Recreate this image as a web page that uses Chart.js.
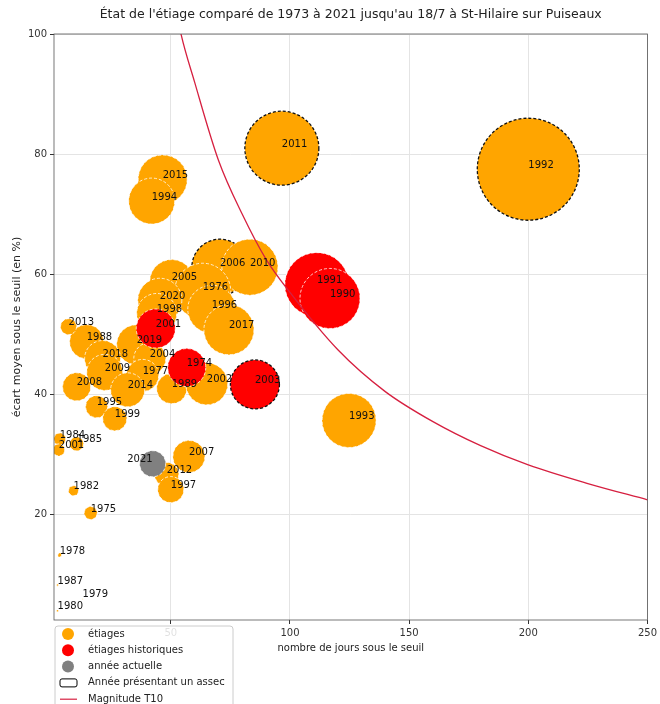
<!DOCTYPE html>
<html lang="fr">
<head>
<meta charset="UTF-8">
<script src="https://cdn.jsdelivr.net/npm/chart.js"></script>
<title>Etiage St-Hilaire</title>
<style>
  body { margin: 0; background: #fff; }
  .container { width: 660px; height: 704px; }
</style>
</head>
<body>
<div class="container">
  <canvas id="mychart" width="660" height="704"></canvas>
</div>
<script>
// étiages (orange)
const etiageAnnees = ['1992','2011','2006','2010','2015','1994','1993','2005','1976','2020','1998','1996','2017',
  '1988','2013','2019','2018','2004','2009','1977','2008','2014','1989','2002','1995','1999','1984','2001','1985',
  '2012','2007','1997','1982','1975','1978','1987','1979','1980'];
const etiageJours = [200, 96.6, 70.6, 83.2, 46.6, 42, 124.8, 50.4, 63.4, 45.4, 44.1, 67.2, 74.4,
  14.7, 7.1, 35.7, 21.4, 41.2, 22.3, 38.2, 10.5, 31.9, 50.4, 65.1, 18.9, 26.5, 3.4, 3, 10.5,
  48.3, 57.6, 50, 9.2, 16.4, 3.4, 2.5, 13, 2.5];
const etiageEcart = [77.5, 81, 61.2, 61.2, 75.8, 72.2, 35.7, 58.8, 57.2, 55.7, 53.5, 54.2, 50.8,
  48.8, 51.3, 48.3, 46, 46, 43.7, 43.2, 41.3, 40.8, 41, 41.8, 38, 36, 32.6, 30.8, 31.8,
  26.7, 29.7, 24.2, 24, 20.3, 13.3, 8.3, 6, 4];
const etiageTaille = [51, 37, 28, 28, 24.5, 23, 27, 22, 28, 22, 20, 24, 25,
  17, 8, 20, 18, 16, 18, 16, 14, 17, 15, 21, 11, 12, 6, 6, 7,
  12, 16, 13, 5, 6.5, 2, 1, 0.5, 1];

// étiages historiques (rouge)
const histoAnnees = ['1991','1990','2003','2001','1974'];
const histoJours = [111.3, 116.8, 85.3, 43.7, 56.7];
const histoEcart = [58.3, 56, 41.7, 51, 44.5];
const histoTaille = [32, 30, 24.5, 19.5, 19];

// année actuelle
const actuelAnnees = ['2021'];
const actuelJours = [42.4];
const actuelEcart = [28.5];
const actuelTaille = [13];

// années avec assec
const assecAnnees = ['1992','2011','2006','2003'];

// courbe magnitude T10
const t10Jours = [51, 54, 60, 70, 80, 90, 100, 120, 140, 160, 180, 200, 225, 250];
const t10Ecart = [107, 100.5, 92, 79, 70, 62.5, 57, 47.5, 40.5, 35.5, 31.5, 28.3, 25.2, 22.5];

const xTicks = [50, 100, 150, 200, 250];
const yTicks = [20, 40, 60, 80, 100];

const titre = "État de l'étiage comparé de 1973 à 2021 jusqu'au 18/7 à St-Hilaire sur Puiseaux";

function points(jours, ecart, taille) {
  return jours.map((j, i) => ({x: j, y: ecart[i], r: taille[i]}));
}

Chart.defaults.font.family = "'DejaVu Sans', sans-serif";
Chart.defaults.color = '#333';

const labelPlugin = {
  id: 'labels',
  beforeDatasetDraw(chart, args) {
    const ds = chart.data.datasets[args.index];
    if (ds.annees) chart.ctx.setLineDash([3, 2]);
  },
  afterDatasetDraw(chart, args) {
    chart.ctx.setLineDash([]);
  },
  afterDatasetsDraw(chart) {
    const ctx = chart.ctx;
    ctx.save();
    ctx.font = "10px 'DejaVu Sans'";
    ctx.fillStyle = '#111';
    ctx.textBaseline = 'alphabetic';
    chart.data.datasets.forEach((ds, d) => {
      if (!ds.annees) return;
      chart.getDatasetMeta(d).data.forEach((el, i) => {
        ctx.textAlign = ds.labelAlign || 'left';
        ctx.fillText(ds.annees[i], el.x, el.y - 1.5);
      });
    });
    // cadre
    const a = chart.chartArea;
    ctx.strokeStyle = '#555';
    ctx.lineWidth = 0.8;
    ctx.strokeRect(a.left, a.top, a.right - a.left, a.bottom - a.top);
    // titre centré sur la zone du graphe
    ctx.font = "12.5px 'DejaVu Sans'";
    ctx.fillStyle = '#222';
    ctx.textAlign = 'center';
    ctx.textBaseline = 'middle';
    ctx.fillText(titre, (a.left + a.right) / 2, 15);
    ctx.restore();
  },
  afterDraw(chart) {
    const ctx = chart.ctx;
    const lx = 55, ly = 626;
    ctx.save();
    ctx.fillStyle = 'rgba(255,255,255,0.85)';
    ctx.strokeStyle = '#ccc';
    ctx.lineWidth = 1;
    ctx.beginPath();
    ctx.roundRect(lx, ly, 178, 95, 3);
    ctx.fill();
    ctx.stroke();
    ctx.font = "10px 'DejaVu Sans'";
    ctx.textBaseline = 'middle';
    ctx.textAlign = 'left';
    const items = [
      {t: 'étiages', c: '#ffa500', k: 'dot'},
      {t: 'étiages historiques', c: '#ff0000', k: 'dot'},
      {t: 'année actuelle', c: '#808080', k: 'dot'},
      {t: 'Année présentant un assec', c: '#000', k: 'box'},
      {t: 'Magnitude T10', c: '#d62040', k: 'line'}
    ];
    items.forEach((it, i) => {
      const y = ly + 8 + i * 16.3;
      if (it.k === 'dot') {
        ctx.fillStyle = it.c;
        ctx.beginPath();
        ctx.arc(lx + 13, y, 6, 0, Math.PI * 2);
        ctx.fill();
      } else if (it.k === 'box') {
        ctx.strokeStyle = it.c;
        ctx.lineWidth = 1;
        ctx.beginPath();
        ctx.roundRect(lx + 5, y - 4, 17, 8, 2);
        ctx.stroke();
      } else {
        ctx.strokeStyle = it.c;
        ctx.lineWidth = 1.2;
        ctx.beginPath();
        ctx.moveTo(lx + 5, y);
        ctx.lineTo(lx + 22, y);
        ctx.stroke();
      }
      ctx.fillStyle = '#222';
      ctx.fillText(it.t, lx + 33, y);
    });
    ctx.restore();
  }
};

const edge = ds => ctx => assecAnnees.includes(ds[ctx.dataIndex]) ? '#111' : '#fff';
const edgeW = ds => ctx => assecAnnees.includes(ds[ctx.dataIndex]) ? 1.3 : 0.8;

let mychart = document.getElementById('mychart').getContext('2d');
let charts = new Chart(mychart, {
  type: 'bubble',
  data: {
    datasets: [
      {
        type: 'line',
        label: 'Magnitude T10',
        data: t10Jours.map((j, i) => ({x: j, y: t10Ecart[i]})),
        borderColor: '#d62040',
        borderWidth: 1.3,
        pointRadius: 0,
        fill: false,
        cubicInterpolationMode: 'monotone',
        order: 0
      },
      {
        label: 'étiages',
        annees: etiageAnnees,
        data: points(etiageJours, etiageEcart, etiageTaille),
        backgroundColor: '#ffa500',
        borderColor: edge(etiageAnnees),
        borderWidth: edgeW(etiageAnnees),
        order: 3
      },
      {
        label: 'étiages historiques',
        annees: histoAnnees,
        data: points(histoJours, histoEcart, histoTaille),
        backgroundColor: '#ff0000',
        borderColor: edge(histoAnnees),
        borderWidth: edgeW(histoAnnees),
        order: 2
      },
      {
        label: 'année actuelle',
        annees: actuelAnnees,
        labelAlign: 'right',
        data: points(actuelJours, actuelEcart, actuelTaille),
        backgroundColor: '#808080',
        borderColor: '#fff',
        borderWidth: 0.8,
        order: 1
      }
    ]
  },
  options: {
    responsive: false,
    animation: false,
    events: [],
    layout: { autoPadding: false, padding: { left: 0, right: 11, top: 34, bottom: 0 } },
    plugins: {
      legend: { display: false },
      tooltip: { enabled: false },
      title: { display: false }
    },
    scales: {
      x: {
        type: 'linear',
        min: 1,
        max: 250,
        afterFit: s => { s.height = 84; },
        afterBuildTicks: s => { s.ticks = xTicks.map(v => ({value: v})); },
        ticks: { font: { size: 10 }, color: '#333', padding: 3 },
        grid: { color: '#e4e4e4', tickColor: '#333', tickLength: 4 },
        border: { display: false },
        title: {
          display: true,
          text: 'nombre de jours sous le seuil',
          color: '#222',
          font: { size: 10 },
          padding: { top: 0, bottom: 50 }
        }
      },
      y: {
        min: 2.5,
        max: 100,
        afterFit: s => { s.width = 54; },
        afterBuildTicks: s => { s.ticks = yTicks.map(v => ({value: v})); },
        ticks: { font: { size: 10 }, color: '#333', padding: 3 },
        grid: { color: '#e4e4e4', tickColor: '#333', tickLength: 4 },
        border: { display: false },
        title: {
          display: true,
          text: 'écart moyen sous le seuil (en %)',
          color: '#222',
          font: { size: 11 },
          padding: { top: 11, bottom: 0 }
        }
      }
    }
  },
  plugins: [labelPlugin]
});
</script>
</body>
</html>
